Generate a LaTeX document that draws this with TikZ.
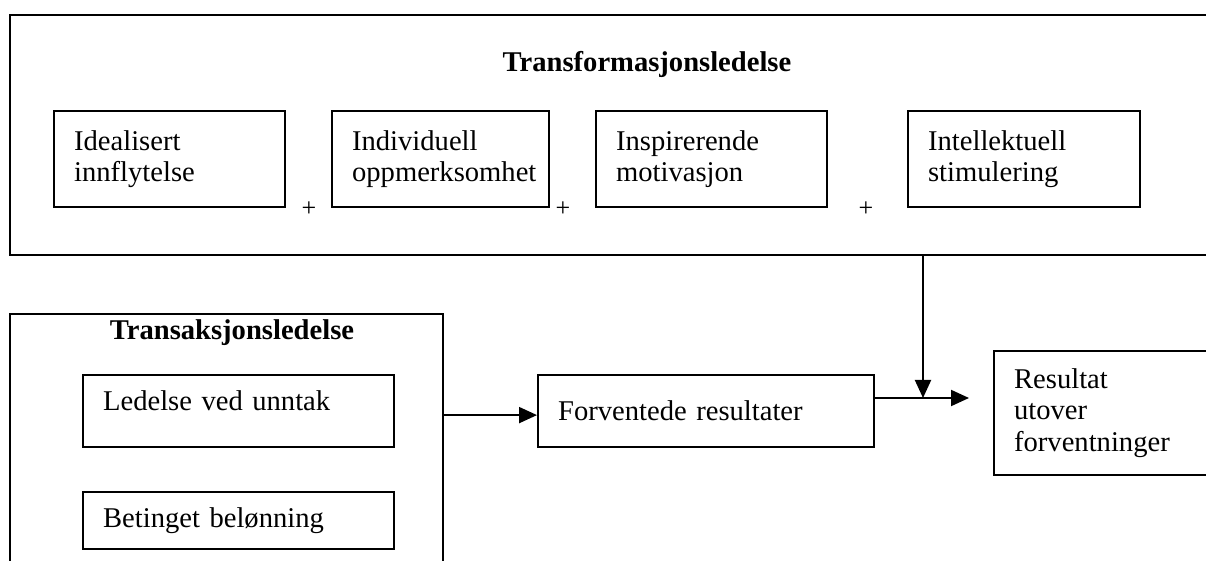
\documentclass[tikz,border=0pt]{standalone}
\usepackage{fontspec}
\setmainfont{Liberation Serif}
\usetikzlibrary{arrows.meta}
\newcommand{\boxfont}{\fontsize{14.3pt}{15.75pt}\selectfont}
\newcommand{\plusfont}{\fontsize{13pt}{15pt}\selectfont}
\begin{document}
\begin{tikzpicture}[x=0.5pt,y=-0.5pt,
  box/.style={draw=black, line width=1.1pt, anchor=north west, align=left, inner xsep=10pt, inner ysep=0pt, font=\boxfont},
  frame/.style={draw=black, line width=1.1pt, anchor=north west, inner sep=0pt},
  title/.style={anchor=base, inner sep=0pt, font=\boxfont\bfseries},
  plus/.style={inner sep=0pt, font=\plusfont},
  arr/.style={draw=black, line width=1pt, -{Triangle[length=9pt,width=8pt]}}]
\useasboundingbox (0,0) rectangle (1206,561);
\node[frame, minimum width=610pt, minimum height=120pt] (transf) at (9,14) {};
\node[title] (tftitle) at (647,72) {Transformasjonsledelse};
\node[box, text width=95.5pt, minimum height=48pt] (ideal) at (53,110) {Idealisert\\innflytelse};
\node[box, text width=88.5pt, minimum height=48pt] (indiv) at (331,110) {Individuell\\oppmerksomhet};
\node[box, text width=95.5pt, minimum height=48pt] (insp) at (595,110) {Inspirerende\\motivasjon};
\node[box, text width=96pt, minimum height=48pt] (intel) at (907,110) {Intellektuell\\stimulering};
\node[plus] (p1) at (309,209) {+};
\node[plus] (p2) at (563,209) {+};
\node[plus] (p3) at (866,209) {+};
\node[frame, minimum width=216.5pt, minimum height=150pt] (transa) at (9,313) {};
\node[title] (tatitle) at (232,340) {Transaksjonsledelse};
\node[box, text width=135.5pt, minimum height=36pt, text depth=10.8pt] (ledelse) at (82,374) {Ledelse ved unntak};
\node[box, text width=135.5pt, minimum height=28.5pt] (betinget) at (82,491) {Betinget belønning};
\node[box, text width=148pt, minimum height=36pt] (forv) at (537,374) {Forventede resultater};
\node[box, text width=100pt, minimum height=62pt] (result) at (993,350) {Resultat\\utover\\forventninger};
\coordinate (inn) at ([yshift=-2pt]forv.west);
\coordinate (joint) at (923,398);
\coordinate (tip) at (969,398);
\draw[arr] (inn -| transa.east) -- (inn);
\draw[arr] (joint |- transf.south) -- (joint);
\draw[arr] (joint -| forv.east) -- (tip);
\end{tikzpicture}
\end{document}
